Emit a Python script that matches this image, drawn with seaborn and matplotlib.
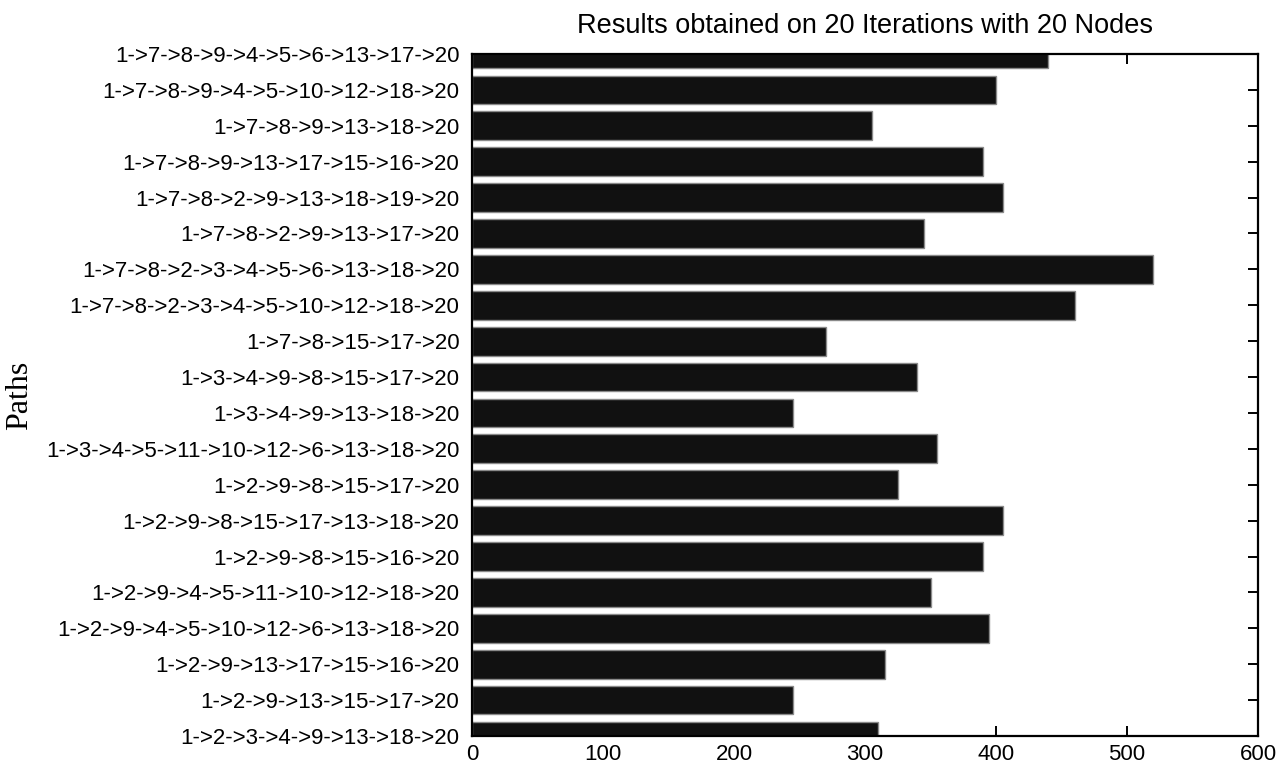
import matplotlib
matplotlib.use("Agg")
import matplotlib.pyplot as plt
import seaborn as sns

# paths, top to bottom as drawn
paths = [
    "1->7->8->9->4->5->6->13->17->20",
    "1->7->8->9->4->5->10->12->18->20",
    "1->7->8->9->13->18->20",
    "1->7->8->9->13->17->15->16->20",
    "1->7->8->2->9->13->18->19->20",
    "1->7->8->2->9->13->17->20",
    "1->7->8->2->3->4->5->6->13->18->20",
    "1->7->8->2->3->4->5->10->12->18->20",
    "1->7->8->15->17->20",
    "1->3->4->9->8->15->17->20",
    "1->3->4->9->13->18->20",
    "1->3->4->5->11->10->12->6->13->18->20",
    "1->2->9->8->15->17->20",
    "1->2->9->8->15->17->13->18->20",
    "1->2->9->8->15->16->20",
    "1->2->9->4->5->11->10->12->18->20",
    "1->2->9->4->5->10->12->6->13->18->20",
    "1->2->9->13->17->15->16->20",
    "1->2->9->13->15->17->20",
    "1->2->3->4->9->13->18->20",
]
values = [440, 400, 305, 390, 405, 345, 520, 460, 270, 340,
          245, 355, 325, 405, 390, 350, 395, 315, 245, 310]
xticks = [0, 100, 200, 300, 400, 500, 600]

sns.set_style("ticks")
plt.rcParams["font.family"] = ["Liberation Sans", "DejaVu Sans"]
plt.rcParams.update({
    "text.color": "black",
    "axes.labelcolor": "black",
    "xtick.color": "black",
    "ytick.color": "black",
    "xtick.direction": "in",
    "ytick.direction": "in",
    "xtick.top": True,
    "ytick.right": True,
    "xtick.major.size": 7,
    "ytick.major.size": 7,
    "xtick.major.width": 1.4,
    "ytick.major.width": 1.4,
    "xtick.major.pad": 6,
    "ytick.major.pad": 9,
    "xtick.labelsize": 16,
    "ytick.labelsize": 16,
})

fig, ax = plt.subplots(figsize=(12.86, 7.68), dpi=100)
fig.subplots_adjust(left=472 / 1286, right=1258 / 1286,
                    top=1 - 54 / 768, bottom=1 - 736 / 768)

sns.barplot(x=values, y=paths, orient="h", color="#111111", saturation=1,
            width=0.8, edgecolor="#8a8a8a", linewidth=1.0, ax=ax)

ax.set_xlim(0, 600)
ax.set_ylim(len(paths) - 1, 0)
ax.set_xticks(xticks)
ax.set_xticklabels([str(t) for t in xticks])
ax.set_yticks(range(len(paths)))
ax.set_yticklabels(paths)
ax.yaxis.set_tick_params(pad=9, direction="in")
for lbl in ax.get_yticklabels():
    lbl.set_horizontalalignment("right")

for side in ["top", "right", "bottom", "left"]:
    ax.spines[side].set_visible(True)
    ax.spines[side].set_color("black")
    ax.spines[side].set_linewidth(1.6)

ax.set_title("Results obtained on 20 Iterations with 20 Nodes", fontsize=19.5,
             pad=15, color="black")
ax.set_ylabel("Paths", fontsize=23, family=["Liberation Serif", "DejaVu Serif"])
ax.yaxis.set_label_coords(-0.557, 0.5)
ax.set_xlabel("")

fig.savefig("out.png", dpi=100)
